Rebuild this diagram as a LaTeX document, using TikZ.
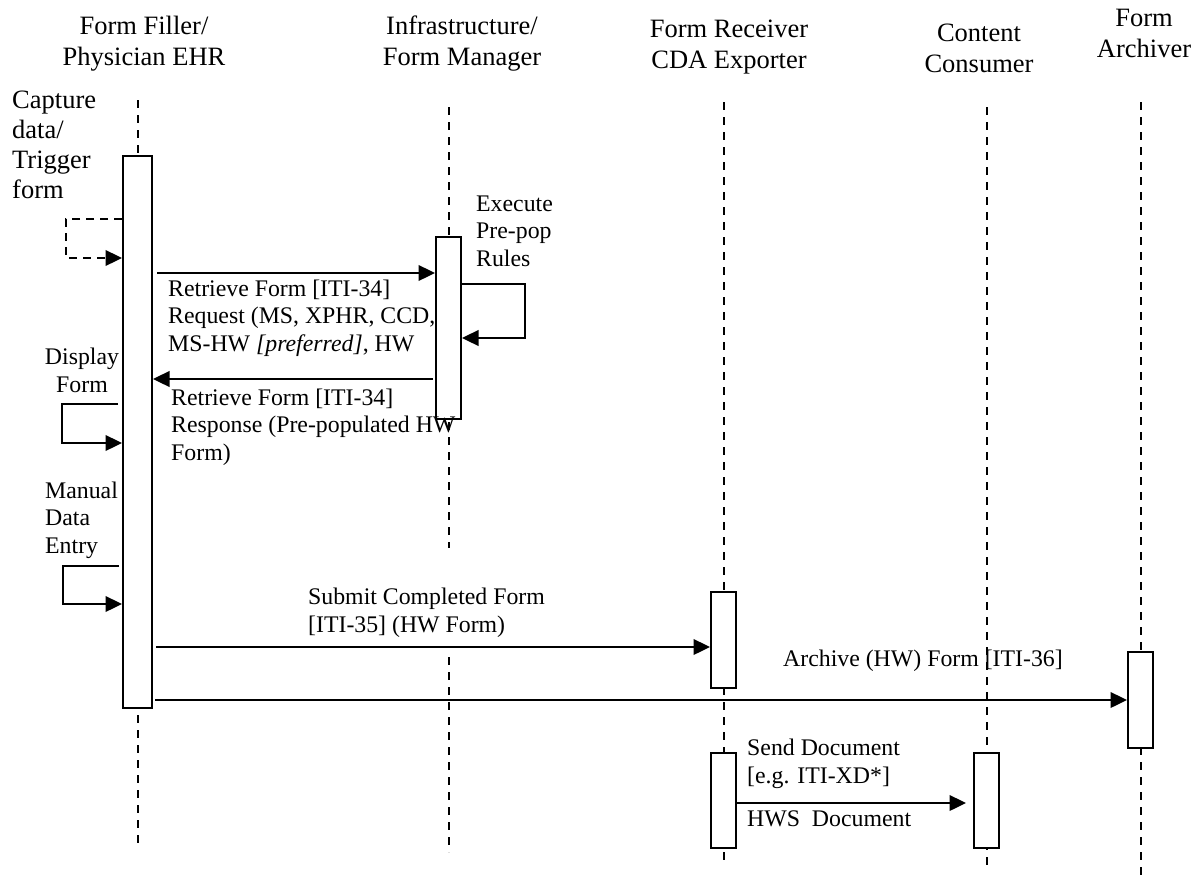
\documentclass[tikz,border=0pt]{standalone}
\usepackage{fontspec}
\setmainfont{Liberation Serif}
\usetikzlibrary{arrows.meta,positioning}
\tikzset{
     hdr/.style = {font=\fontsize{26.5}{30.5}\selectfont, align=center, anchor=base, inner sep=0pt},
     lbl/.style = {font=\fontsize{23.8}{27.2}\selectfont, align=left, anchor=base west, inner sep=0pt},
     lifeline/.style = {black, line width=2pt, dash pattern=on 8pt off 7pt},
     actbox/.style = {draw, fill=white, line width=2pt, minimum width=25pt, inner sep=0pt},
     msg/.style = {black, line width=2.4pt, -{Triangle[length=16.5pt,width=15.5pt]}},
     selfcall/.style = {msg, dash pattern=on 8pt off 6pt},
    }

\begin{document}
\begin{tikzpicture}[x=1pt,y=-1pt]
        \useasboundingbox (0,0) rectangle (1201,875);
        % actors (base = last line)
        \node [hdr] (filler)   at (144,65)  {Form Filler/\\Physician EHR};
        \node [hdr] (manager)  at (462,65)  {Infrastructure/\\Form Manager};
        \node [hdr] (receiver) at (729,68)  {Form Receiver\\CDA Exporter};
        \node [hdr] (consumer) at (979,72)  {Content\\Consumer};
        \node [hdr] (archiver) at (1144,57) {Form\\Archiver};
        % lifelines
        \draw [lifeline] (137.5,100) -- (137.5,845);
        \draw [lifeline] (448.5,107) -- (448.5,548);
        \draw [lifeline] (448.5,657) -- (448.5,852);
        \draw [lifeline] (723.5,102) -- (723.5,860);
        \draw [lifeline] (986.5,107) -- (986.5,867);
        \draw [lifeline] (1140.5,102) -- (1140.5,875);
        % activations
        \node [actbox, minimum width=29pt, minimum height=552pt] (fillbox) at (137.5,432) {};
        \node [actbox, minimum height=182pt] (mgrbox)  at (448.5,328)  {};
        \node [actbox, minimum height=96pt]  (rcvboxa) at (723.5,640)  {};
        \node [actbox, minimum height=95pt]  (rcvboxb) at (723.5,800.5) {};
        \node [actbox, minimum height=95pt]  (consbox) at (986.5,800.5) {};
        \node [actbox, minimum height=96pt]  (archbox) at (1140.5,700) {};
        % messages
        \draw [msg, shorten <=4pt] (fillbox.east |- 0,273) -- (mgrbox.west |- 0,273);
        \draw [msg, shorten <=2pt] (mgrbox.west |- 0,379) -- (fillbox.east |- 0,379);
        \draw [msg, shorten <=3pt] (fillbox.east |- 0,647) -- (rcvboxa.west |- 0,647);
        \draw [msg, shorten <=2pt] (fillbox.east |- 0,700) -- (archbox.west |- 0,700);
        \draw [msg, shorten >=7pt] (rcvboxb.east |- 0,803) -- (consbox.west |- 0,803);
        % self calls
        \draw [selfcall] (fillbox.west |- 0,219) -- ++(-56,0) |- (fillbox.west |- 0,258);
        \draw [msg, shorten <=4pt] (fillbox.west |- 0,404) -- ++(-60,0) |- (fillbox.west |- 0,443);
        \draw [msg, shorten <=3pt] (fillbox.west |- 0,566) -- ++(-59,0) |- (fillbox.west |- 0,604);
        \draw [msg] (mgrbox.east |- 0,284) -- ++(63,0) |- (mgrbox.east |- 0,338);
        % labels (base = last line)
        \node [lbl, font=\fontsize{26.5}{30}\selectfont] (capture) at (12,198) {Capture\\data/\\Trigger\\form};
        \node [lbl, align=center, anchor=base] (display) at (82,392) {Display\\Form};
        \node [lbl] (manual)  at (45,553)  {Manual\\Data\\Entry};
        \node [lbl] (execute) at (476,266) {Execute\\Pre-pop\\Rules};
        \node [lbl] (reqtext)  at (168,351) {Retrieve Form [ITI-34]\\Request (MS, XPHR, CCD,\\MS-HW \textit{[preferred]}, HW};
        \node [lbl] (resptext) at (171,460) {Retrieve Form [ITI-34]\\Response (Pre-populated HW\\Form)};
        \node [lbl] (subtext)  at (308,632) {Submit Completed Form\\{[}ITI-35{]} (HW Form)};
        \node [lbl] (archtext) at (783,666) {Archive (HW) Form [ITI-36]};
        \node [lbl] (sendtext) at (747,783) {Send Document\\{[}e.g. ITI-XD*{]}};
        \node [lbl] (hwstext)  at (747,826) {HWS\ \ Document};
\end{tikzpicture}
\end{document}
